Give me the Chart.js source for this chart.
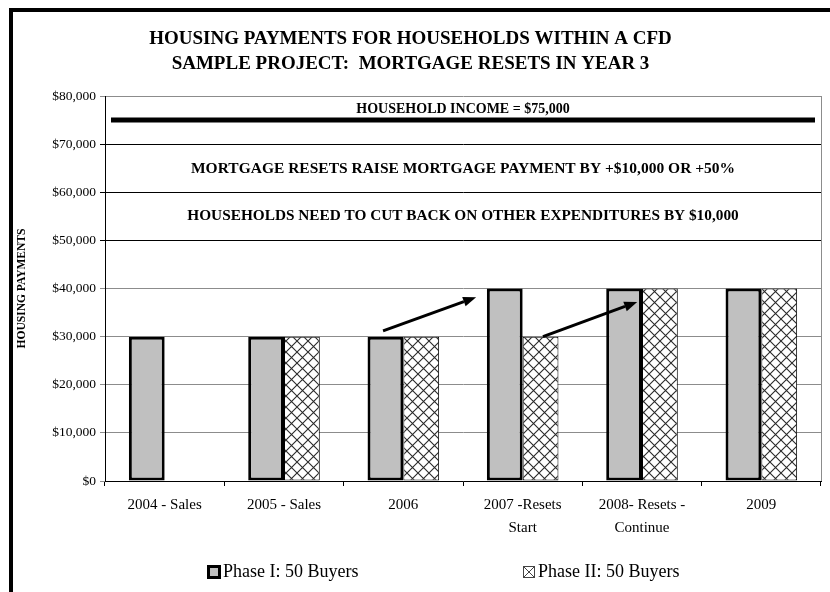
<!DOCTYPE html>
<html>
<head>
<meta charset="utf-8">
<script src="https://cdn.jsdelivr.net/npm/chart.js@4.4.1/dist/chart.umd.min.js"></script>
<style>
  html, body { margin: 0; padding: 0; background: #fff; }
  #wrap { width: 830px; height: 592px; }
</style>
</head>
<body>
<div id="wrap"><canvas id="housing" width="830" height="592"></canvas></div>
<script>
var SERIF = "'Liberation Serif', 'Times New Roman', serif";

// categories and series
var categories = [
    ["2004 - Sales"],
    ["2005 - Sales"],
    ["2006"],
    ["2007 -Resets", "Start"],
    ["2008- Resets -", "Continue"],
    ["2009"]
];
var phaseOne = [30000, 30000, 30000, 40000, 40000, 40000];
var phaseTwo = [null, 30000, 30000, 30000, 40000, 40000];
var seriesNames = ["Phase I: 50 Buyers", "Phase II: 50 Buyers"];

// reference level and notes, in chart units
var incomeLevel = 75000;
var notes = [
    { text: "HOUSEHOLD INCOME = $75,000", y: 77300, size: 14 },
    { text: "MORTGAGE RESETS RAISE MORTGAGE PAYMENT BY +$10,000 OR +50%", y: 64800, size: 15.5 },
    { text: "HOUSEHOLDS NEED TO CUT BACK ON OTHER EXPENDITURES BY $10,000", y: 55100, size: 15.3 }
];
// arrows: [fromIndex, fromValue, toIndex, toValue] (index is category position)
var arrows = [
    [1.83, 31200, 2.61, 38200],
    [3.17, 30000, 3.96, 37200]
];

// cross-hatch fill for phase II
var hatch = (function () {
    var c = document.createElement("canvas");
    c.width = 11;
    c.height = 11;
    var g = c.getContext("2d");
    g.fillStyle = "#fff";
    g.fillRect(0, 0, 11, 11);
    g.strokeStyle = "#2a2a2a";
    g.lineWidth = 1.1;
    g.beginPath();
    g.moveTo(0, 0); g.lineTo(11, 11);
    g.moveTo(0, 11); g.lineTo(11, 0);
    g.stroke();
    return g.createPattern(c, "repeat");
})();

function catX(xs, v) {
    var p0 = xs.getPixelForValue(0);
    var p1 = xs.getPixelForValue(1);
    return p0 + v * (p1 - p0);
}

var framePlugin = {
    id: "frame",
    beforeDraw: function (chart) {
        var ctx = chart.ctx;
        ctx.save();
        ctx.fillStyle = "#fff";
        ctx.fillRect(0, 0, chart.width, chart.height);
        ctx.fillStyle = "#000";
        ctx.fillRect(9, 8, 4, chart.height);
        ctx.fillRect(9, 8, chart.width, 4);
        ctx.restore();
    }
};

var notesPlugin = {
    id: "notes",
    afterDatasetsDraw: function (chart) {
        var ctx = chart.ctx;
        var area = chart.chartArea;
        var xs = chart.scales.x;
        var ys = chart.scales.y;
        ctx.save();

        // right edge of the plot
        ctx.strokeStyle = "#8c8c8c";
        ctx.lineWidth = 1;
        ctx.beginPath();
        ctx.moveTo(area.right + 0.5, area.top);
        ctx.lineTo(area.right + 0.5, area.bottom);
        ctx.stroke();

        // income line
        var iy = ys.getPixelForValue(incomeLevel);
        ctx.strokeStyle = "#000";
        ctx.lineWidth = 5;
        ctx.beginPath();
        ctx.moveTo(area.left + 6, iy);
        ctx.lineTo(area.right - 6, iy);
        ctx.stroke();

        // text notes
        ctx.fillStyle = "#000";
        ctx.textAlign = "center";
        ctx.textBaseline = "middle";
        var cx = (area.left + area.right) / 2;
        notes.forEach(function (n) {
            ctx.font = "bold " + n.size + "px " + SERIF;
            ctx.fillText(n.text, cx, ys.getPixelForValue(n.y));
        });

        // arrows
        arrows.forEach(function (a) {
            var x0 = catX(xs, a[0]), y0 = ys.getPixelForValue(a[1]);
            var x1 = catX(xs, a[2]), y1 = ys.getPixelForValue(a[3]);
            var ang = Math.atan2(y1 - y0, x1 - x0);
            var head = 13, wide = 5;
            var bx = x1 - head * Math.cos(ang), by = y1 - head * Math.sin(ang);
            ctx.strokeStyle = "#000";
            ctx.lineWidth = 3;
            ctx.beginPath();
            ctx.moveTo(x0, y0);
            ctx.lineTo(bx, by);
            ctx.stroke();
            ctx.beginPath();
            ctx.moveTo(x1, y1);
            ctx.lineTo(bx + wide * Math.sin(ang), by - wide * Math.cos(ang));
            ctx.lineTo(bx - wide * Math.sin(ang), by + wide * Math.cos(ang));
            ctx.closePath();
            ctx.fill();
        });
        ctx.restore();
    }
};

// legend drawn with wide spacing under the axis
var legendPlugin = {
    id: "wideLegend",
    afterDraw: function (chart) {
        var ctx = chart.ctx;
        var spots = [207, 523];
        var y = 572;
        ctx.save();
        ctx.font = "18px " + SERIF;
        ctx.textBaseline = "middle";
        ctx.textAlign = "left";
        chart.data.datasets.forEach(function (ds, i) {
            var x = spots[i];
            if (i === 0) {
                ctx.fillStyle = "#000";
                ctx.fillRect(x, y - 7, 14, 14);
                ctx.fillStyle = "#c0c0c0";
                ctx.fillRect(x + 3, y - 4, 8, 8);
            } else {
                ctx.fillStyle = "#fff";
                ctx.fillRect(x, y - 6, 12, 12);
                ctx.strokeStyle = "#444";
                ctx.lineWidth = 1;
                ctx.strokeRect(x + 0.5, y - 5.5, 11, 11);
                ctx.beginPath();
                ctx.moveTo(x + 1, y - 5); ctx.lineTo(x + 11, y + 5);
                ctx.moveTo(x + 1, y + 5); ctx.lineTo(x + 11, y - 5);
                ctx.stroke();
            }
            ctx.fillStyle = "#000";
            ctx.fillText(ds.label, x + (i === 0 ? 16 : 15), y);
        });
        ctx.restore();
    }
};

var ctx = document.getElementById("housing").getContext("2d");
var chart = new Chart(ctx, {
    type: "bar",
    data: {
        labels: categories,
        datasets: [
            {
                label: seriesNames[0],
                data: phaseOne,
                backgroundColor: "#c0c0c0",
                borderColor: "#000",
                borderWidth: 3,
                borderSkipped: false
            },
            {
                label: seriesNames[1],
                data: phaseTwo,
                backgroundColor: hatch,
                borderColor: "#000",
                borderWidth: 1,
                borderSkipped: false
            }
        ]
    },
    options: {
        responsive: false,
        animation: false,
        devicePixelRatio: 1,
        layout: { padding: { top: 0, left: 0, right: 9, bottom: 44 } },
        datasets: { bar: { categoryPercentage: 0.6, barPercentage: 1 } },
        scales: {
            x: {
                grid: {
                    offset: true,
                    drawOnChartArea: false,
                    drawTicks: true,
                    tickLength: 5,
                    color: "#000"
                },
                border: { color: "#000", width: 1 },
                ticks: {
                    color: "#000",
                    padding: 8,
                    maxRotation: 0,
                    autoSkip: false,
                    font: { family: SERIF, size: 15, lineHeight: 23 / 15 }
                }
            },
            y: {
                min: 0,
                max: 80000,
                afterFit: function (scale) { scale.width = 105; },
                grid: {
                    tickLength: 5,
                    color: function (c) {
                        var v = c.tick ? c.tick.value : 0;
                        return (v >= 50000 && v <= 70000) ? "#000" : "#8c8c8c";
                    }
                },
                border: { color: "#000", width: 1 },
                ticks: {
                    stepSize: 10000,
                    color: "#000",
                    padding: 4,
                    font: { family: SERIF, size: 13.5 },
                    callback: function (v) { return "$" + v.toLocaleString("en-US"); }
                },
                title: {
                    display: true,
                    text: "HOUSING PAYMENTS",
                    color: "#000",
                    padding: { top: 15, bottom: 0 },
                    font: { family: SERIF, size: 11.5, weight: "bold" }
                }
            }
        },
        plugins: {
            legend: { display: false },
            tooltip: { enabled: false },
            title: {
                display: true,
                text: ["HOUSING PAYMENTS FOR HOUSEHOLDS WITHIN A CFD", "SAMPLE PROJECT:  MORTGAGE RESETS IN YEAR 3"],
                color: "#000",
                padding: { top: 26.5, bottom: 19.5 },
                font: { family: SERIF, size: 19, weight: "bold", lineHeight: 25 / 19 }
            }
        }
    },
    plugins: [framePlugin, notesPlugin, legendPlugin]
});
</script>
</body>
</html>
